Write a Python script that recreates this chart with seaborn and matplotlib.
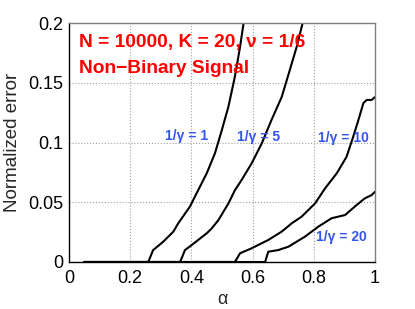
import numpy as np
import pandas as pd
import matplotlib
matplotlib.use('Agg')
import matplotlib.pyplot as plt
import seaborn as sns

# 1/gamma = 1
alpha_g1 = [0.05, 0.259, 0.275, 0.308, 0.341, 0.357, 0.395, 0.417, 0.450, 0.477,
            0.499, 0.521, 0.542, 0.559, 0.572]
err_g1 = [0.0, 0.0, 0.010, 0.017, 0.0254, 0.0324, 0.0463, 0.0575, 0.0742, 0.091,
          0.110, 0.130, 0.155, 0.180, 0.2025]
# 1/gamma = 5
alpha_g5 = [0.05, 0.363, 0.379, 0.401, 0.450, 0.466, 0.488, 0.521, 0.542, 0.564,
            0.597, 0.630, 0.662, 0.695, 0.722, 0.744, 0.766]
err_g5 = [0.0, 0.0, 0.010, 0.0142, 0.024, 0.028, 0.035, 0.049, 0.060, 0.0686,
          0.0826, 0.0993, 0.119, 0.138, 0.161, 0.180, 0.2025]
# 1/gamma = 10
alpha_g10 = [0.05, 0.542, 0.559, 0.597, 0.651, 0.695, 0.728, 0.760, 0.804, 0.837,
             0.875, 0.907, 0.929, 0.946, 0.962, 0.973, 0.989, 1.0]
err_g10 = [0.0, 0.0, 0.0073, 0.0115, 0.0184, 0.0254, 0.0324, 0.0379, 0.049, 0.0617,
           0.0742, 0.088, 0.105, 0.119, 0.133, 0.1356, 0.1356, 0.138]
# 1/gamma = 20
alpha_g20 = [0.05, 0.641, 0.651, 0.684, 0.717, 0.771, 0.815, 0.858, 0.902, 0.940,
             0.967, 0.989, 1.0]
err_g20 = [0.0, 0.0, 0.0086, 0.010, 0.0128, 0.0212, 0.0296, 0.0366, 0.0393, 0.0477,
           0.0533, 0.056, 0.0588]

series_names = ['1/γ = 1', '1/γ = 5', '1/γ = 10', '1/γ = 20']
xticks = [0, 0.2, 0.4, 0.6, 0.8, 1]
xticklabels = ['0', '0.2', '0.4', '0.6', '0.8', '1']
yticks = [0, 0.05, 0.1, 0.15, 0.2]
yticklabels = ['0', '0.05', '0.1', '0.15', '0.2']

frames = []
for name, a, e in zip(series_names,
                      [alpha_g1, alpha_g5, alpha_g10, alpha_g20],
                      [err_g1, err_g5, err_g10, err_g20]):
    frames.append(pd.DataFrame({'alpha': a, 'err': e, 'series': name}))
df = pd.concat(frames, ignore_index=True)

sns.set_style('white')
plt.rcParams['font.family'] = ['Liberation Sans', 'DejaVu Sans']

fig = plt.figure(figsize=(4.15, 3.09), dpi=100)
ax = fig.add_axes([69 / 415, 1 - 262 / 309, 306 / 415, 239 / 309])

for name in series_names:
    sub = df[df['series'] == name]
    sns.lineplot(data=sub, x='alpha', y='err', ax=ax, color='black',
                 linewidth=1.5, sort=False, estimator=None)

ax.set_xlim(0, 1)
ax.set_ylim(0, 0.2)
ax.set_xticks(xticks)
ax.set_xticklabels(xticklabels)
ax.set_yticks(yticks)
ax.set_yticklabels(yticklabels)
ax.grid(True, linestyle=':', color='#a0a0a0', linewidth=0.8)
ax.tick_params(direction='in', length=3, labelsize=13, colors='black')
ax.tick_params(axis='x', pad=6)
ax.tick_params(axis='y', pad=4)
for s in ['left', 'bottom']:
    ax.spines[s].set_color('black')
    ax.spines[s].set_linewidth(1.0)
for s in ['top', 'right']:
    ax.spines[s].set_color('#808080')
    ax.spines[s].set_linewidth(1.0)

ax.set_xlabel('α', fontsize=13, labelpad=3)
ax.set_ylabel('Normalized error', fontsize=13.5, labelpad=5)

ax.text(0.033, 0.901, 'N = 10000, K = 20, ν = 1/6', transform=ax.transAxes,
        color='red', fontsize=13.8, fontweight='bold', va='baseline', ha='left')
ax.text(0.033, 0.789, 'Non\u2212Binary Signal', transform=ax.transAxes,
        color='red', fontsize=13.8, fontweight='bold', va='baseline', ha='left')

blue = '#3355ee'
label_pos = [(0.314, 0.102), (0.548, 0.1013), (0.815, 0.1002), (0.807, 0.0176)]
for name, (x, y) in zip(series_names, label_pos):
    ax.text(x, y, name, color=blue, fontsize=10, fontweight='bold',
            va='baseline', ha='left')

fig.savefig('out.png', dpi=100)
